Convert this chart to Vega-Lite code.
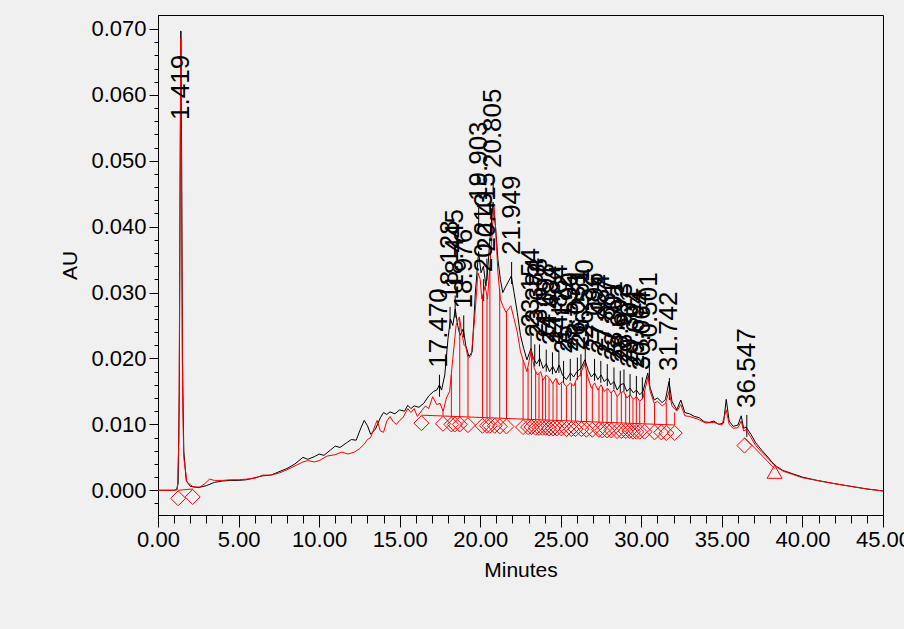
{
  "$schema": "https://vega.github.io/schema/vega-lite/v6.json",
  "width": 725,
  "height": 500,
  "autosize": {"type": "none"},
  "padding": {"left": 158, "top": 15, "right": 21, "bottom": 114},
  "background": "#f0f0f0",
  "config": {
    "view": {"stroke": "#000000", "strokeWidth": 1, "fill": "#f0f0f0"},
    "axis": {"grid": false, "domainColor": "#000000", "tickColor": "#000000", "labelColor": "#000000", "titleColor": "#000000", "labelFont": "Liberation Sans", "titleFont": "Liberation Sans", "titleFontWeight": "normal", "labelOverlap": false, "labelBound": false, "labelFlush": false}
  },
  "datasets": {
    "black": [
      {"t": 0.0, "v": 0.0}, {"t": 0.5, "v": 0.0}, {"t": 1.0, "v": 0.0}, {"t": 1.15, "v": 0.0001}, {"t": 1.25, "v": 0.001}, {"t": 1.32, "v": 0.015}, {"t": 1.38, "v": 0.05}, {"t": 1.42, "v": 0.0697}, {"t": 1.47, "v": 0.05}, {"t": 1.52, "v": 0.02}, {"t": 1.6, "v": 0.006}, {"t": 1.75, "v": 0.0015}, {"t": 2.0, "v": 0.0006}, {"t": 2.5, "v": 0.0004}, {"t": 3.0, "v": 0.0007}, {"t": 3.5, "v": 0.0012}, {"t": 4.0, "v": 0.0014}, {"t": 4.5, "v": 0.0015}, {"t": 5.0, "v": 0.0015}, {"t": 5.5, "v": 0.0016}, {"t": 6.0, "v": 0.0019}, {"t": 6.5, "v": 0.0022}, {"t": 7.0, "v": 0.0023}, {"t": 7.5, "v": 0.0028}, {"t": 8.0, "v": 0.0033}, {"t": 8.5, "v": 0.004}, {"t": 9.0, "v": 0.005}, {"t": 9.3, "v": 0.0047}, {"t": 9.7, "v": 0.0051}, {"t": 10.0, "v": 0.0055}, {"t": 10.3, "v": 0.0053}, {"t": 10.7, "v": 0.0061}, {"t": 11.0, "v": 0.0067}, {"t": 11.3, "v": 0.0065}, {"t": 11.7, "v": 0.0072}, {"t": 12.0, "v": 0.0077}, {"t": 12.3, "v": 0.0076}, {"t": 12.6, "v": 0.0095}, {"t": 12.8, "v": 0.0106}, {"t": 13.0, "v": 0.0098}, {"t": 13.2, "v": 0.0085}, {"t": 13.5, "v": 0.0093}, {"t": 13.8, "v": 0.011}, {"t": 14.0, "v": 0.0118}, {"t": 14.2, "v": 0.0115}, {"t": 14.4, "v": 0.0119}, {"t": 14.7, "v": 0.0116}, {"t": 15.0, "v": 0.0122}, {"t": 15.3, "v": 0.012}, {"t": 15.5, "v": 0.0129}, {"t": 15.7, "v": 0.0124}, {"t": 15.9, "v": 0.0128}, {"t": 16.2, "v": 0.0126}, {"t": 16.5, "v": 0.0132}, {"t": 16.8, "v": 0.0143}, {"t": 17.1, "v": 0.015}, {"t": 17.3, "v": 0.0152}, {"t": 17.47, "v": 0.016}, {"t": 17.6, "v": 0.0152}, {"t": 17.8, "v": 0.0175}, {"t": 18.0, "v": 0.023}, {"t": 18.15, "v": 0.026}, {"t": 18.3, "v": 0.025}, {"t": 18.45, "v": 0.0275}, {"t": 18.6, "v": 0.025}, {"t": 18.75, "v": 0.0235}, {"t": 18.95, "v": 0.0245}, {"t": 19.1, "v": 0.022}, {"t": 19.3, "v": 0.0203}, {"t": 19.5, "v": 0.021}, {"t": 19.7, "v": 0.03}, {"t": 19.9, "v": 0.0362}, {"t": 20.05, "v": 0.033}, {"t": 20.2, "v": 0.034}, {"t": 20.35, "v": 0.031}, {"t": 20.45, "v": 0.033}, {"t": 20.6, "v": 0.038}, {"t": 20.8, "v": 0.0437}, {"t": 20.95, "v": 0.04}, {"t": 21.1, "v": 0.035}, {"t": 21.25, "v": 0.032}, {"t": 21.4, "v": 0.03}, {"t": 21.6, "v": 0.031}, {"t": 21.93, "v": 0.0325}, {"t": 22.1, "v": 0.03}, {"t": 22.3, "v": 0.027}, {"t": 22.5, "v": 0.0235}, {"t": 22.7, "v": 0.0215}, {"t": 22.9, "v": 0.0198}, {"t": 23.15, "v": 0.0215}, {"t": 23.3, "v": 0.02}, {"t": 23.5, "v": 0.0192}, {"t": 23.7, "v": 0.02}, {"t": 23.9, "v": 0.0185}, {"t": 24.1, "v": 0.0192}, {"t": 24.3, "v": 0.018}, {"t": 24.5, "v": 0.0188}, {"t": 24.7, "v": 0.0178}, {"t": 24.9, "v": 0.019}, {"t": 25.1, "v": 0.0175}, {"t": 25.35, "v": 0.0168}, {"t": 25.6, "v": 0.0178}, {"t": 25.8, "v": 0.0172}, {"t": 26.0, "v": 0.018}, {"t": 26.25, "v": 0.0185}, {"t": 26.5, "v": 0.0198}, {"t": 26.7, "v": 0.0182}, {"t": 26.9, "v": 0.0172}, {"t": 27.1, "v": 0.0178}, {"t": 27.3, "v": 0.0168}, {"t": 27.5, "v": 0.0175}, {"t": 27.7, "v": 0.0165}, {"t": 27.9, "v": 0.017}, {"t": 28.1, "v": 0.016}, {"t": 28.3, "v": 0.0165}, {"t": 28.5, "v": 0.0152}, {"t": 28.7, "v": 0.016}, {"t": 28.9, "v": 0.0162}, {"t": 29.1, "v": 0.015}, {"t": 29.3, "v": 0.0155}, {"t": 29.5, "v": 0.0148}, {"t": 29.7, "v": 0.0152}, {"t": 29.9, "v": 0.0145}, {"t": 30.1, "v": 0.015}, {"t": 30.4, "v": 0.0178}, {"t": 30.55, "v": 0.0155}, {"t": 30.8, "v": 0.0137}, {"t": 31.0, "v": 0.014}, {"t": 31.3, "v": 0.0133}, {"t": 31.5, "v": 0.0138}, {"t": 31.72, "v": 0.0165}, {"t": 31.9, "v": 0.0135}, {"t": 32.2, "v": 0.0122}, {"t": 32.45, "v": 0.0137}, {"t": 32.7, "v": 0.0118}, {"t": 33.0, "v": 0.0116}, {"t": 33.3, "v": 0.0112}, {"t": 33.6, "v": 0.011}, {"t": 33.9, "v": 0.0104}, {"t": 34.2, "v": 0.0103}, {"t": 34.5, "v": 0.0105}, {"t": 34.8, "v": 0.01}, {"t": 35.1, "v": 0.0102}, {"t": 35.27, "v": 0.0138}, {"t": 35.45, "v": 0.0105}, {"t": 35.7, "v": 0.0097}, {"t": 36.0, "v": 0.0099}, {"t": 36.2, "v": 0.0113}, {"t": 36.35, "v": 0.0094}, {"t": 36.5, "v": 0.0096}, {"t": 36.8, "v": 0.0085}, {"t": 37.1, "v": 0.0072}, {"t": 37.5, "v": 0.006}, {"t": 37.8, "v": 0.0052}, {"t": 38.1, "v": 0.0043}, {"t": 38.4, "v": 0.0036}, {"t": 38.8, "v": 0.003}, {"t": 39.4, "v": 0.0025}, {"t": 40.0, "v": 0.002}, {"t": 40.9, "v": 0.0015}, {"t": 42.0, "v": 0.001}, {"t": 43.0, "v": 0.0006}, {"t": 44.0, "v": 0.0002}, {"t": 45.0, "v": -0.0001}
    ],
    "red": [
      {"t": 0.0, "v": 0.0}, {"t": 1.0, "v": 0.0}, {"t": 1.2, "v": 0.0001}, {"t": 1.3, "v": 0.008}, {"t": 1.36, "v": 0.04}, {"t": 1.41, "v": 0.0686}, {"t": 1.46, "v": 0.045}, {"t": 1.52, "v": 0.015}, {"t": 1.6, "v": 0.005}, {"t": 1.8, "v": 0.0012}, {"t": 2.2, "v": 0.0005}, {"t": 2.6, "v": 0.0005}, {"t": 2.9, "v": 0.001}, {"t": 3.2, "v": 0.0017}, {"t": 3.5, "v": 0.0015}, {"t": 4.0, "v": 0.0015}, {"t": 4.5, "v": 0.0016}, {"t": 5.0, "v": 0.0016}, {"t": 5.5, "v": 0.0017}, {"t": 6.0, "v": 0.0018}, {"t": 6.5, "v": 0.0023}, {"t": 7.0, "v": 0.0023}, {"t": 7.5, "v": 0.0026}, {"t": 8.0, "v": 0.0031}, {"t": 8.5, "v": 0.0037}, {"t": 9.0, "v": 0.0043}, {"t": 9.3, "v": 0.0045}, {"t": 9.7, "v": 0.0043}, {"t": 10.0, "v": 0.0045}, {"t": 10.5, "v": 0.0052}, {"t": 11.0, "v": 0.0054}, {"t": 11.4, "v": 0.0058}, {"t": 11.8, "v": 0.0055}, {"t": 12.2, "v": 0.0058}, {"t": 12.5, "v": 0.0063}, {"t": 12.8, "v": 0.007}, {"t": 13.0, "v": 0.0077}, {"t": 13.2, "v": 0.008}, {"t": 13.5, "v": 0.01}, {"t": 13.6, "v": 0.0106}, {"t": 13.8, "v": 0.009}, {"t": 14.0, "v": 0.0088}, {"t": 14.2, "v": 0.0105}, {"t": 14.4, "v": 0.0112}, {"t": 14.6, "v": 0.0104}, {"t": 14.8, "v": 0.01}, {"t": 15.0, "v": 0.0106}, {"t": 15.2, "v": 0.011}, {"t": 15.5, "v": 0.0124}, {"t": 15.7, "v": 0.0118}, {"t": 15.9, "v": 0.0124}, {"t": 16.1, "v": 0.0112}, {"t": 16.4, "v": 0.0122}, {"t": 16.6, "v": 0.0128}, {"t": 16.8, "v": 0.0124}, {"t": 17.05, "v": 0.0142}, {"t": 17.3, "v": 0.013}, {"t": 17.5, "v": 0.0132}, {"t": 17.7, "v": 0.012}, {"t": 17.9, "v": 0.014}, {"t": 18.1, "v": 0.015}, {"t": 18.3, "v": 0.02}, {"t": 18.5, "v": 0.025}, {"t": 18.7, "v": 0.0263}, {"t": 18.85, "v": 0.024}, {"t": 19.0, "v": 0.022}, {"t": 19.1, "v": 0.0218}, {"t": 19.25, "v": 0.02}, {"t": 19.45, "v": 0.0205}, {"t": 19.65, "v": 0.026}, {"t": 19.86, "v": 0.033}, {"t": 20.0, "v": 0.032}, {"t": 20.1, "v": 0.029}, {"t": 20.3, "v": 0.031}, {"t": 20.45, "v": 0.029}, {"t": 20.6, "v": 0.034}, {"t": 20.85, "v": 0.043}, {"t": 20.95, "v": 0.04}, {"t": 21.1, "v": 0.033}, {"t": 21.25, "v": 0.029}, {"t": 21.4, "v": 0.028}, {"t": 21.6, "v": 0.027}, {"t": 21.9, "v": 0.028}, {"t": 22.1, "v": 0.026}, {"t": 22.3, "v": 0.024}, {"t": 22.5, "v": 0.021}, {"t": 22.7, "v": 0.0195}, {"t": 22.9, "v": 0.018}, {"t": 23.17, "v": 0.0213}, {"t": 23.35, "v": 0.0185}, {"t": 23.55, "v": 0.0175}, {"t": 23.75, "v": 0.018}, {"t": 23.9, "v": 0.0167}, {"t": 24.1, "v": 0.0175}, {"t": 24.3, "v": 0.017}, {"t": 24.5, "v": 0.0162}, {"t": 24.7, "v": 0.017}, {"t": 24.9, "v": 0.016}, {"t": 25.1, "v": 0.0165}, {"t": 25.35, "v": 0.0157}, {"t": 25.6, "v": 0.0163}, {"t": 25.8, "v": 0.0158}, {"t": 26.0, "v": 0.017}, {"t": 26.2, "v": 0.0175}, {"t": 26.48, "v": 0.0193}, {"t": 26.7, "v": 0.017}, {"t": 26.9, "v": 0.0155}, {"t": 27.1, "v": 0.0163}, {"t": 27.3, "v": 0.0152}, {"t": 27.5, "v": 0.016}, {"t": 27.7, "v": 0.015}, {"t": 27.9, "v": 0.0155}, {"t": 28.1, "v": 0.0148}, {"t": 28.3, "v": 0.0152}, {"t": 28.5, "v": 0.0142}, {"t": 28.7, "v": 0.0148}, {"t": 28.9, "v": 0.015}, {"t": 29.1, "v": 0.014}, {"t": 29.3, "v": 0.0145}, {"t": 29.5, "v": 0.0138}, {"t": 29.7, "v": 0.0142}, {"t": 29.9, "v": 0.0135}, {"t": 30.1, "v": 0.014}, {"t": 30.41, "v": 0.0172}, {"t": 30.55, "v": 0.015}, {"t": 30.8, "v": 0.0132}, {"t": 31.0, "v": 0.0135}, {"t": 31.3, "v": 0.0128}, {"t": 31.5, "v": 0.0132}, {"t": 31.72, "v": 0.015}, {"t": 31.9, "v": 0.0128}, {"t": 32.2, "v": 0.012}, {"t": 32.45, "v": 0.013}, {"t": 32.7, "v": 0.0113}, {"t": 33.0, "v": 0.0112}, {"t": 33.5, "v": 0.0108}, {"t": 34.0, "v": 0.0102}, {"t": 34.5, "v": 0.0103}, {"t": 35.0, "v": 0.0099}, {"t": 35.27, "v": 0.0122}, {"t": 35.45, "v": 0.01}, {"t": 35.7, "v": 0.0094}, {"t": 36.0, "v": 0.0095}, {"t": 36.2, "v": 0.0105}, {"t": 36.35, "v": 0.009}, {"t": 36.5, "v": 0.0092}, {"t": 36.8, "v": 0.008}, {"t": 37.1, "v": 0.0068}, {"t": 37.5, "v": 0.0057}, {"t": 37.8, "v": 0.005}, {"t": 38.1, "v": 0.0042}, {"t": 38.4, "v": 0.0035}, {"t": 38.8, "v": 0.0029}, {"t": 39.4, "v": 0.0024}, {"t": 40.0, "v": 0.0019}, {"t": 40.9, "v": 0.0015}, {"t": 42.0, "v": 0.001}, {"t": 43.0, "v": 0.0006}, {"t": 44.0, "v": 0.0002}, {"t": 45.0, "v": -0.0001}
    ],
    "base": [
      {"seg": "a", "t": 1.25, "v": 0.0}, {"seg": "a", "t": 2.15, "v": 0.0002},
      {"seg": "b", "t": 16.35, "v": 0.0114}, {"seg": "b", "t": 32.07, "v": 0.0099},
      {"seg": "c", "t": 36.4, "v": 0.008}, {"seg": "c", "t": 38.27, "v": 0.0033}
    ],
    "drops": [
      {"t": 17.69, "v": 0.0113, "v2": 0.0121}, {"t": 18.21, "v": 0.0112, "v2": 0.0175}, {"t": 18.73, "v": 0.0112, "v2": 0.026}, {"t": 19.24, "v": 0.0111, "v2": 0.02}, {"t": 20.14, "v": 0.011, "v2": 0.0295}, {"t": 20.42, "v": 0.011, "v2": 0.0292}, {"t": 20.6, "v": 0.011, "v2": 0.034}, {"t": 21.21, "v": 0.0109, "v2": 0.0305}, {"t": 21.63, "v": 0.0109, "v2": 0.0272}, {"t": 22.66, "v": 0.0108, "v2": 0.0197}, {"t": 22.97, "v": 0.0108, "v2": 0.0185}, {"t": 23.18, "v": 0.0108, "v2": 0.0212}, {"t": 23.44, "v": 0.0107, "v2": 0.018}, {"t": 23.65, "v": 0.0107, "v2": 0.0177}, {"t": 23.86, "v": 0.0107, "v2": 0.017}, {"t": 24.06, "v": 0.0107, "v2": 0.0173}, {"t": 24.27, "v": 0.0106, "v2": 0.017}, {"t": 24.52, "v": 0.0106, "v2": 0.0163}, {"t": 24.76, "v": 0.0106, "v2": 0.0168}, {"t": 25.04, "v": 0.0106, "v2": 0.0162}, {"t": 25.35, "v": 0.0105, "v2": 0.0157}, {"t": 25.66, "v": 0.0105, "v2": 0.0162}, {"t": 25.92, "v": 0.0105, "v2": 0.0163}, {"t": 26.28, "v": 0.0105, "v2": 0.018}, {"t": 26.59, "v": 0.0104, "v2": 0.0182}, {"t": 26.96, "v": 0.0104, "v2": 0.0157}, {"t": 27.37, "v": 0.0104, "v2": 0.0155}, {"t": 27.58, "v": 0.0103, "v2": 0.0157}, {"t": 27.87, "v": 0.0103, "v2": 0.0154}, {"t": 28.14, "v": 0.0103, "v2": 0.0149}, {"t": 28.49, "v": 0.0102, "v2": 0.0142}, {"t": 28.76, "v": 0.0102, "v2": 0.0148}, {"t": 29.03, "v": 0.0102, "v2": 0.0146}, {"t": 29.27, "v": 0.0102, "v2": 0.0144}, {"t": 29.48, "v": 0.0101, "v2": 0.0138}, {"t": 29.69, "v": 0.0101, "v2": 0.0142}, {"t": 29.9, "v": 0.0101, "v2": 0.0135}, {"t": 30.2, "v": 0.0101, "v2": 0.015}, {"t": 30.82, "v": 0.01, "v2": 0.0132}, {"t": 31.55, "v": 0.0099, "v2": 0.0133}, {"t": 32.07, "v": 0.0099, "v2": 0.0118}
    ],
    "bounds": [
      {"t": 1.25, "v": 0.0}, {"t": 2.15, "v": 0.0002}, {"t": 16.35, "v": 0.0114}, {"t": 17.69, "v": 0.0113}, {"t": 18.21, "v": 0.0112}, {"t": 18.42, "v": 0.0112}, {"t": 18.73, "v": 0.0112}, {"t": 19.24, "v": 0.0111}, {"t": 20.14, "v": 0.011}, {"t": 20.42, "v": 0.011}, {"t": 20.6, "v": 0.011}, {"t": 20.9, "v": 0.011}, {"t": 21.21, "v": 0.0109}, {"t": 21.63, "v": 0.0109}, {"t": 22.66, "v": 0.0108}, {"t": 22.97, "v": 0.0108}, {"t": 23.18, "v": 0.0108}, {"t": 23.44, "v": 0.0107}, {"t": 23.65, "v": 0.0107}, {"t": 23.86, "v": 0.0107}, {"t": 24.06, "v": 0.0107}, {"t": 24.27, "v": 0.0106}, {"t": 24.52, "v": 0.0106}, {"t": 24.76, "v": 0.0106}, {"t": 25.04, "v": 0.0106}, {"t": 25.35, "v": 0.0105}, {"t": 25.66, "v": 0.0105}, {"t": 25.92, "v": 0.0105}, {"t": 26.28, "v": 0.0105}, {"t": 26.59, "v": 0.0104}, {"t": 26.96, "v": 0.0104}, {"t": 27.37, "v": 0.0104}, {"t": 27.58, "v": 0.0103}, {"t": 27.87, "v": 0.0103}, {"t": 28.14, "v": 0.0103}, {"t": 28.49, "v": 0.0102}, {"t": 28.76, "v": 0.0102}, {"t": 29.03, "v": 0.0102}, {"t": 29.27, "v": 0.0102}, {"t": 29.48, "v": 0.0101}, {"t": 29.69, "v": 0.0101}, {"t": 29.9, "v": 0.0101}, {"t": 30.2, "v": 0.0101}, {"t": 30.82, "v": 0.01}, {"t": 31.24, "v": 0.01}, {"t": 31.55, "v": 0.0099}, {"t": 32.07, "v": 0.0099}, {"t": 36.4, "v": 0.008}
    ],
    "ends": [{"t": 38.27, "v": 0.0028}],
    "labels": [
      {"t": 1.419, "v": 0.0518, "txt": "1.419"},
      {"t": 17.47, "v": 0.0142, "txt": "17.470"},
      {"t": 18.128, "v": 0.0245, "txt": "18.128"},
      {"t": 18.445, "v": 0.0262, "txt": "18.445"},
      {"t": 18.976, "v": 0.0232, "txt": "18.976"},
      {"t": 19.903, "v": 0.0395, "txt": "19.903"},
      {"t": 20.213, "v": 0.0287, "txt": "20.213"},
      {"t": 20.415, "v": 0.0318, "txt": "20.415"},
      {"t": 20.805, "v": 0.0445, "txt": "20.805"},
      {"t": 21.949, "v": 0.0313, "txt": "21.949"},
      {"t": 23.154, "v": 0.0203, "txt": "23.154"},
      {"t": 23.384, "v": 0.0188, "txt": "23.384"},
      {"t": 23.678, "v": 0.0188, "txt": "23.678"},
      {"t": 24.098, "v": 0.018, "txt": "24.098"},
      {"t": 24.484, "v": 0.0176, "txt": "24.484"},
      {"t": 24.884, "v": 0.0178, "txt": "24.884"},
      {"t": 25.172, "v": 0.0163, "txt": "25.172"},
      {"t": 25.59, "v": 0.0166, "txt": "25.590"},
      {"t": 26.031, "v": 0.0168, "txt": "26.031"},
      {"t": 26.251, "v": 0.0173, "txt": "26.251"},
      {"t": 26.52, "v": 0.0186, "txt": "26.520"},
      {"t": 27.096, "v": 0.0166, "txt": "27.096"},
      {"t": 27.484, "v": 0.0163, "txt": "27.484"},
      {"t": 27.887, "v": 0.0158, "txt": "27.887"},
      {"t": 28.301, "v": 0.0153, "txt": "28.301"},
      {"t": 28.692, "v": 0.0148, "txt": "28.692"},
      {"t": 28.923, "v": 0.015, "txt": "28.923"},
      {"t": 29.301, "v": 0.0143, "txt": "29.301"},
      {"t": 29.694, "v": 0.014, "txt": "29.694"},
      {"t": 30.064, "v": 0.0138, "txt": "30.064"},
      {"t": 30.501, "v": 0.0166, "txt": "30.501"},
      {"t": 31.742, "v": 0.0137, "txt": "31.742"},
      {"t": 36.547, "v": 0.0081, "txt": "36.547"}
    ]
  },
  "encoding": {
    "x": {"field": "t", "type": "quantitative", "title": "Minutes",
      "scale": {"domain": [0, 45], "nice": false, "zero": false},
      "axis": {
        "values": [0,1,2,3,4,5,6,7,8,9,10,11,12,13,14,15,16,17,18,19,20,21,22,23,24,25,26,27,28,29,30,31,32,33,34,35,36,37,38,39,40,41,42,43,44,45],
        "labelExpr": "datum.value % 5 === 0 ? format(datum.value, '.2f') : ''",
        "tickSize": {"condition": {"test": "datum.value % 5 === 0", "value": 12}, "value": 8},
        "labelFontSize": 22, "titleFontSize": 21, "labelPadding": 2, "titlePadding": 9
      }
    },
    "y": {"field": "v", "type": "quantitative", "title": "AU",
      "scale": {"domain": [-0.00375, 0.07212], "nice": false, "zero": false},
      "axis": {
        "values": [-0.002,0,0.002,0.004,0.006,0.008,0.01,0.012,0.014,0.016,0.018,0.02,0.022,0.024,0.026,0.028,0.03,0.032,0.034,0.036,0.038,0.04,0.042,0.044,0.046,0.048,0.05,0.052,0.054,0.056,0.058,0.06,0.062,0.064,0.066,0.068,0.07],
        "labelExpr": "abs(datum.value*100 - round(datum.value*100)) < 0.001 ? format(datum.value, '.3f') : ''",
        "tickSize": {"condition": {"test": "abs(datum.value*100 - round(datum.value*100)) < 0.001", "value": 9}, "value": 4},
        "labelFontSize": 22, "titleFontSize": 21, "labelPadding": 3, "titlePadding": 10
      }
    }
  },
  "layer": [
    {
      "data": {"name": "black"},
      "mark": {"type": "line", "color": "#000000", "strokeWidth": 1}
    },
    {
      "data": {"name": "labels"},
      "transform": [{"filter": "datum.t > 2"}],
      "mark": {"type": "rule", "color": "#000000", "strokeWidth": 1, "y2Offset": -22},
      "encoding": {"y2": {"field": "v"}}
    },
    {
      "data": {"name": "base"},
      "mark": {"type": "line", "color": "#ff0000", "strokeWidth": 1},
      "encoding": {"detail": {"field": "seg"}}
    },
    {
      "data": {"name": "drops"},
      "mark": {"type": "rule", "color": "#ff0000", "strokeWidth": 1},
      "encoding": {"y2": {"field": "v2"}}
    },
    {
      "data": {"name": "bounds"},
      "mark": {"type": "point", "shape": "diamond", "size": 225, "filled": false, "stroke": "#ff0000", "strokeWidth": 1, "opacity": 1, "yOffset": 8}
    },
    {
      "data": {"name": "ends"},
      "mark": {"type": "point", "shape": "triangle-up", "size": 225, "filled": false, "stroke": "#ff0000", "strokeWidth": 1, "opacity": 1}
    },
    {
      "data": {"name": "red"},
      "mark": {"type": "line", "color": "#ff0000", "strokeWidth": 1}
    },
    {
      "data": {"name": "labels"},
      "mark": {"type": "text", "angle": 270, "align": "left", "baseline": "middle", "dx": 29, "font": "Liberation Sans", "fontSize": 26, "color": "#000000"},
      "encoding": {"text": {"field": "txt"}}
    }
  ]
}
